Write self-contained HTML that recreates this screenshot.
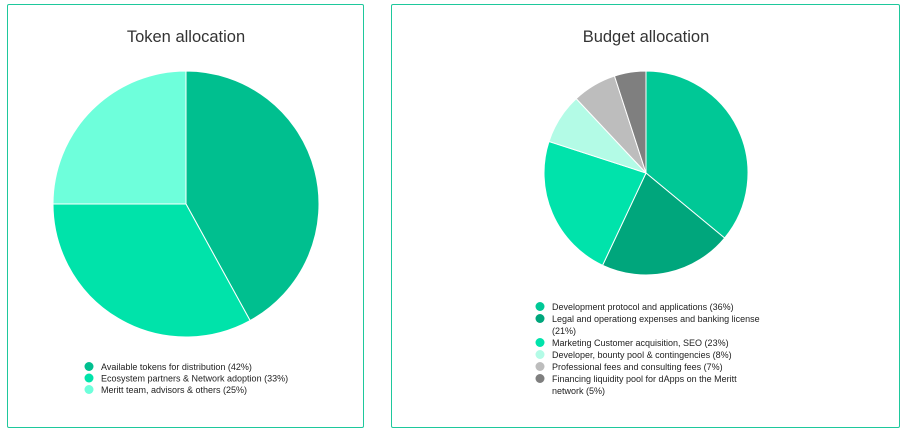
<!DOCTYPE html>
<html><head><meta charset="utf-8">
<style>
body{margin:0;width:908px;height:433px;background:#fff;font-family:"Liberation Sans",Arial,sans-serif;overflow:hidden;position:relative}
.panel{position:absolute;border:1px solid #1ec89c;border-radius:2px;box-sizing:border-box}
svg{position:absolute;left:0;top:0}
</style></head><body>
<div class="panel" style="left:7px;top:4px;width:357px;height:424px"></div>
<div class="panel" style="left:391px;top:4px;width:509px;height:424px"></div>
<svg id="chart" width="908" height="433"></svg>
<script>
const tokenLabels=["Available tokens for distribution (42%)","Ecosystem partners & Network adoption (33%)","Meritt team, advisors & others (25%)"];
const tokenValues=[42,33,25];
const tokenColors=["#00bf8f","#00e3aa","#6effdb"];
const budgetLabels=[["Development protocol and applications (36%)"],["Legal and operationg expenses and banking license","(21%)"],["Marketing Customer acquisition, SEO (23%)"],["Developer, bounty pool & contingencies (8%)"],["Professional fees and consulting fees (7%)"],["Financing liquidity pool for dApps on the Meritt","network (5%)"]];
const budgetValues=[36,21,23,8,7,5];
const budgetColors=["#00c896","#00a67c","#00e3ab","#b3fbe6","#bdbdbd","#7f7f7f"];
const NS="http://www.w3.org/2000/svg";
const svg=document.getElementById('chart');
function mk(t,a){const e=document.createElementNS(NS,t);for(const k in a)e.setAttribute(k,a[k]);svg.appendChild(e);return e;}
function pie(cx,cy,r,vals,cols,name){
  const tot=vals.reduce((a,b)=>a+b,0);let a0=-Math.PI/2;
  vals.forEach((v,i)=>{
    const a1=a0+v/tot*2*Math.PI;
    const x0=cx+r*Math.cos(a0),y0=cy+r*Math.sin(a0),x1=cx+r*Math.cos(a1),y1=cy+r*Math.sin(a1);
    const p=mk('path',{d:`M${cx},${cy}L${x0},${y0}A${r},${r} 0 ${a1-a0>Math.PI?1:0} 1 ${x1},${y1}Z`,fill:cols[i],stroke:'#fff','stroke-width':1});
    
    
    a0=a1;
  });
}
function title(x,y,t,name){const e=mk('text',{x:x,y:y,'text-anchor':'middle','font-size':16.5,fill:'#333'});e.textContent=t;

}
title(186,42,"Token allocation","token-title");
title(646,42,"Budget allocation","budget-title");
pie(186,204,133,tokenValues,tokenColors,'token');
pie(646,173,102,budgetValues,budgetColors,'budget');
function legend(x,y,labels,cols,name,step){
  let yy=y;
  labels.forEach((l,i)=>{
    const lines=Array.isArray(l)?l:[l];
    const c=mk('circle',{cx:x,cy:yy-3.5,r:4.5,fill:cols[i]});
    
    
    lines.forEach((ln,j)=>{
      const t=mk('text',{x:x+12,y:yy,'font-size':9,fill:'#222'});t.textContent=ln;
      
      
      yy+=step;
    });
  });
}
legend(89,370,tokenLabels,tokenColors,'token',11.5);
legend(540,310,budgetLabels,budgetColors,'budget',12);
</script>
</body></html>
